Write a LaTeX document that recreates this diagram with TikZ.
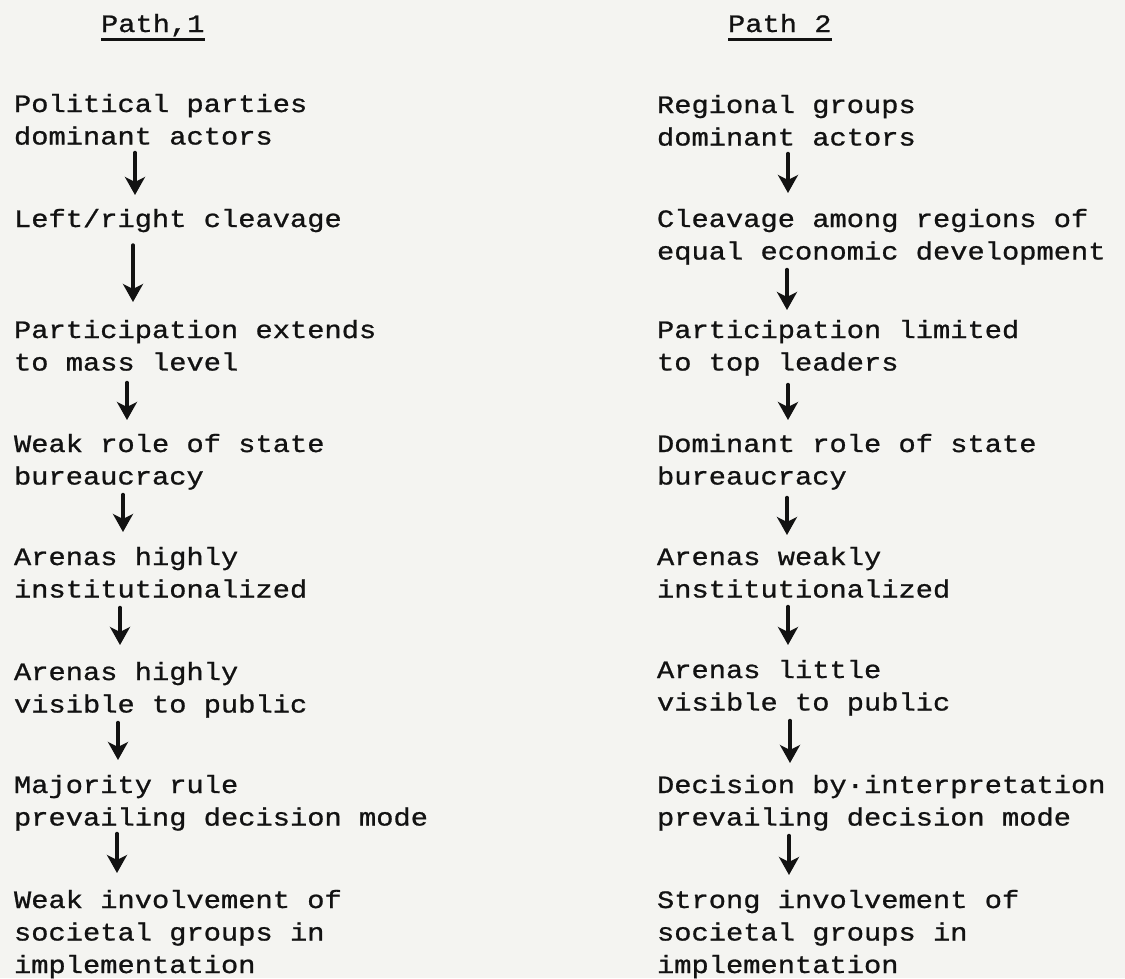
\documentclass[tikz,border=0pt]{standalone}
\usepackage{fontspec}
\newfontfamily\tw{Liberation Mono}[FakeStretch=1.15,FakeBold=0.9]
\usetikzlibrary{arrows.meta}
\definecolor{paper}{RGB}{244,244,241}
\definecolor{ink}{RGB}{18,18,18}
\newcommand\blk[1]{\begin{tabular}[t]{@{}l@{}}#1\end{tabular}}
\tikzset{
  txt/.style={anchor=base west, inner sep=0pt, outer sep=0pt, text=ink,
    font=\tw\fontsize{25}{32.5}\selectfont},
  arr/.style={draw=ink, line width=3.4pt, line cap=round,
    -{Stealth[length=18pt,width=20pt,inset=5pt]}},
  uline/.style={draw=ink, line width=2.2pt},
}
\begin{document}
\begin{tikzpicture}[x=1pt,y=-1pt]
\useasboundingbox (0,0) rectangle (1125,978);
\fill[paper] (0,0) rectangle (1125,978);

% headers
\node[txt] (h1) at (101,32) {Path\rlap{\ },1};
\node[txt] (h2) at (728,32) {Path 2};
\draw[uline] ([yshift=-7.5pt]h1.base west) -- ([yshift=-7.5pt]h1.base east);
\draw[uline] ([yshift=-7.5pt]h2.base west) -- ([yshift=-7.5pt]h2.base east);

% Path 1
\node[txt] (p1) at (14,112) {\blk{Political parties\\dominant actors}};
\node[txt] (p2) at (14,227) {\blk{Left/right cleavage}};
\node[txt] (p3) at (14,338) {\blk{Participation extends\\to mass level}};
\node[txt] (p4) at (14,452) {\blk{Weak role of state\\bureaucracy}};
\node[txt] (p5) at (14,565) {\blk{Arenas highly\\institutionalized}};
\node[txt] (p6) at (14,680) {\blk{Arenas highly\\visible to public}};
\node[txt] (p7) at (14,793) {\blk{Majority rule\\prevailing decision mode}};
\node[txt] (p8) at (14,908) {\blk{Weak involvement of\\societal groups in\\implementation}};

% Path 2
\node[txt] (r1) at (657,113) {\blk{Regional groups\\dominant actors}};
\node[txt] (r2) at (657,227) {\blk{Cleavage among regions of\\equal economic development}};
\node[txt] (r3) at (657,338) {\blk{Participation limited\\to top leaders}};
\node[txt] (r4) at (657,452) {\blk{Dominant role of state\\bureaucracy}};
\node[txt] (r5) at (657,565) {\blk{Arenas weakly\\institutionalized}};
\node[txt] (r6) at (657,678) {\blk{Arenas little\\visible to public}};
\node[txt] (r7) at (657,793) {\blk{Decision by·interpretation\\prevailing decision mode}};
\node[txt] (r8) at (657,908) {\blk{Strong involvement of\\societal groups in\\implementation}};

% arrows, Path 1
\draw[arr] ([xshift=121pt,yshift=1.75pt]p1.south west) -- ([xshift=121pt,yshift=9.25pt]p2.north west);
\draw[arr] ([xshift=119pt,yshift=-8.25pt]p2.south west) -- ([xshift=119pt,yshift=13.25pt]p3.north west);
\draw[arr] ([xshift=113pt,yshift=-2.25pt]p3.south west) -- ([xshift=113pt,yshift=9.25pt]p4.north west);
\draw[arr] ([xshift=109pt,yshift=-0.25pt]p4.south west) -- ([xshift=109pt,yshift=10.25pt]p5.north west);
\draw[arr] ([xshift=106pt,yshift=-0.25pt]p5.south west) -- ([xshift=106pt,yshift=12.25pt]p6.north west);
\draw[arr] ([xshift=104pt,yshift=-0.25pt]p6.south west) -- ([xshift=104pt,yshift=10.25pt]p7.north west);
\draw[arr] ([xshift=103pt,yshift=1.75pt]p7.south west) -- ([xshift=103pt,yshift=12.25pt]p8.north west);

% arrows, Path 2
\draw[arr] ([xshift=131pt,yshift=1.75pt]r1.south west) -- ([xshift=131pt,yshift=11.25pt]r2.north west);
\draw[arr] ([xshift=130pt,yshift=-0.25pt]r2.south west) -- ([xshift=130pt,yshift=5.25pt]r3.north west);
\draw[arr] ([xshift=131pt,yshift=-4.25pt]r3.south west) -- ([xshift=131pt,yshift=9.25pt]r4.north west);
\draw[arr] ([xshift=130pt,yshift=-3.25pt]r4.south west) -- ([xshift=130pt,yshift=7.25pt]r5.north west);
\draw[arr] ([xshift=131pt,yshift=0.75pt]r5.south west) -- ([xshift=131pt,yshift=10.25pt]r6.north west);
\draw[arr] ([xshift=133pt,yshift=-0.25pt]r6.south west) -- ([xshift=133pt,yshift=7.25pt]r7.north west);
\draw[arr] ([xshift=132pt,yshift=-0.25pt]r7.south west) -- ([xshift=132pt,yshift=10.25pt]r8.north west);
\end{tikzpicture}
\end{document}
